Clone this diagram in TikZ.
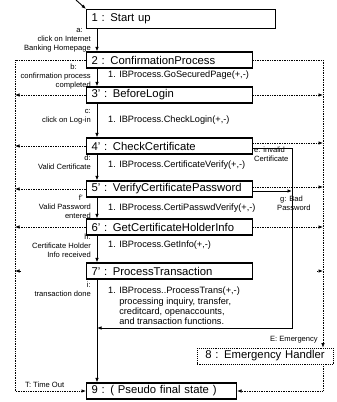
\documentclass[tikz,border=0pt]{standalone}
\usepackage{fontspec}
\setmainfont{Liberation Sans}
\usetikzlibrary{arrows.meta}
\begin{document}
\begin{tikzpicture}[x=1pt,y=-1pt,
 state/.style={draw,line width=1.1pt,anchor=west,minimum height=16pt,text width=156pt,inner xsep=5pt,inner ysep=0pt,align=left,font=\fontsize{11.3}{12}\selectfont},
 note/.style={anchor=north west,inner sep=0pt,align=left,font=\fontsize{9.2}{10.3}\selectfont},
 lbl/.style={anchor=north east,inner sep=0pt,align=right,font=\fontsize{7.6}{9}\selectfont},
 flow/.style={line width=0.9pt,-{Latex[length=4.5pt,width=3.5pt]}},
 tout/.style={densely dotted,line width=0.7pt,-{Latex[length=4.5pt,width=3.5pt]}}]
 \useasboundingbox (0,0) rectangle (337,402);
 \coordinate (init) at (76,0); \coordinate (lt) at (15,0); \coordinate (rt) at (323,0);
 \coordinate (back) at (292,328); \coordinate (main) at (97,328);
 \node[state,text width=179pt,minimum height=19pt] (s1) at (86,19) {1 : Start up};
 \foreach \n/\y/\t in {2/60/{2 : ConfirmationProcess},3/95/{3' : BeforeLogin},4/146/{4' : CheckCertificate},
   5/189/{5' : VerifyCertificatePassword},6/227/{6' : GetCertificateHolderInfo},7/271/{7' : ProcessTransaction}}
   \node[state] (s\n) at (86,\y) {\t};
 \node[state,densely dotted,line width=0.7pt,text width=126pt] (s8) at (197,356) {\hspace*{3pt}8 : Emergency Handler};
 \node[state,text width=140pt] (s9) at (86,391) {9 : ( Pseudo final state )};
 \node[note] (p2) at (108,71) {1. IBProcess.GoSecuredPage(+,-)};
 \node[note] (p3) at (108,116) {1. IBProcess.CheckLogin(+,-)};
 \node[note] (p4) at (108,161) {1. IBProcess.CertificateVerify(+,-)};
 \node[note] (p5) at (108,204) {1. IBProcess.CertiPasswdVerify(+,-)};
 \node[note] (p6) at (108,241) {1. IBProcess.GetInfo(+,-)};
 \node[note] (p7) at (108,287) {1. IBProcess..ProcessTrans(+,-)\\\phantom{1. }processing inquiry, transfer,\\
   \phantom{1. }creditcard, openaccounts,\\\phantom{1. }and transaction functions.};
 \node[lbl] (la) at (91,28) {a:\hspace*{8pt}\\click on Internet\\Banking Homepage};
 \node[lbl] (lb) at (91,64) {b:\hspace*{14pt}\\confirmation process\\completed};
 \node[lbl] (lc) at (91,109) {c:\\click on Log-in};
 \node[lbl] (ld) at (91,155) {d:\\Valid Certificate};
 \node[lbl] (lf) at (91,195) {f'\hspace*{8pt}\\Valid Password\\entered};
 \node[lbl] (lh) at (91,234) {h:\\Certificate Holder\\Info received};
 \node[lbl] (li) at (91,282) {i:\\transaction done};
 \node[lbl,anchor=north west,align=left] (le) at (254,147) {e: invalid\\Certificate};
 \node[lbl,anchor=north west,align=left] (lg) at (277,196) {\hspace*{3pt}g: Bad\\Password};
 \node[lbl,anchor=east] (lE) at (318,340) {E: Emergency};
 \node[lbl,anchor=west] (lT) at (25,385) {T: Time Out};
 \draw[flow] (init) -- (s1.north west);
 \foreach \a/\b in {1/2,2/3,3/4,4/5,5/6,6/7,7/9}
   \draw[flow] ([xshift=11pt]s\a.south west) -- ([xshift=11pt]s\b.north west);
 \draw[tout] (s2.west) -- (s2.west -| lt) -- (s9.west -| lt) -- (s9.west);
 \foreach \n in {3,4,5,6} \draw[tout] (s\n.west) -- (s\n.west -| lt);
 \draw[tout] ([xshift=6pt]s7.west -| lt) -- (s7.west -| lt);
 \draw[tout] (s2.east) -- (s2.east -| rt) -- (s8.north -| rt);
 \draw[tout] (s3.east) -- (s3.east -| rt);
 \draw[tout] ([yshift=3pt]s4.east) -- ([yshift=3pt]s4.east -| rt);
 \draw[tout] ([yshift=2pt]s5.east) -- ([yshift=2pt]s5.east -| rt);
 \draw[tout] (s6.east) -- (s6.east -| rt);
 \draw[tout] ([xshift=-6pt]s7.east -| rt) -- (s7.east -| rt);
 \draw[tout] (s8.south -| rt) |- (s9.east);
 \draw[flow] ([yshift=-2pt]s4.east) -| (back) -- (main);
 \draw[flow] ([yshift=-2pt]s5.east) -- ([yshift=-2pt]s5.east -| back);
\end{tikzpicture}
\end{document}
